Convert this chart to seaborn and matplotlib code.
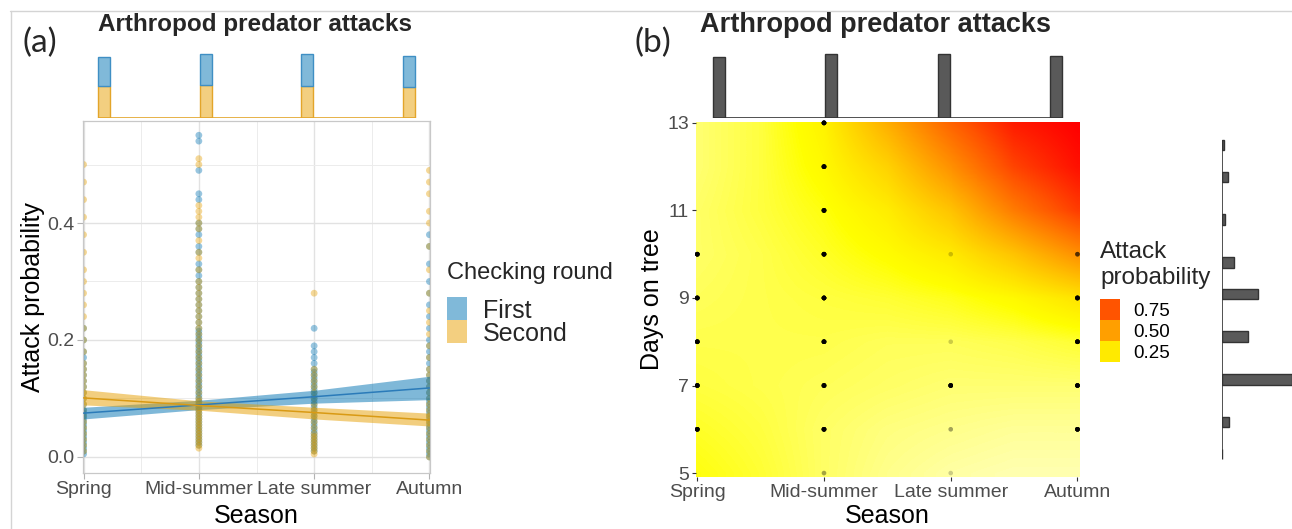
import numpy as np
import pandas as pd
import matplotlib
matplotlib.use("Agg")
import matplotlib.pyplot as plt
from matplotlib.colors import LinearSegmentedColormap
from matplotlib.patches import Rectangle
from matplotlib.lines import Line2D
import seaborn as sns

sns.set_theme(style="white")
plt.rcParams["font.family"] = ["Liberation Sans", "DejaVu Sans"]

W, H = 1292, 529

seasons = ["Spring", "Mid-summer", "Late summer", "Autumn"]
rounds = ["First", "Second"]

# ---- panel (a): attack probability per tree, by season and checking round ----
spring_first = [0.005, 0.01, 0.015, 0.02, 0.025, 0.03, 0.035, 0.04, 0.045, 0.05,
                0.055, 0.06, 0.065, 0.07, 0.075, 0.08, 0.09, 0.10, 0.11, 0.12,
                0.13, 0.14, 0.15, 0.16, 0.17, 0.18, 0.20, 0.22]
spring_second = [0.01, 0.02, 0.03, 0.04, 0.05, 0.06, 0.07, 0.08, 0.09, 0.10,
                 0.11, 0.12, 0.13, 0.14, 0.15, 0.16, 0.18, 0.20, 0.22, 0.24,
                 0.26, 0.28, 0.30, 0.32, 0.35, 0.38, 0.41, 0.44, 0.47, 0.50]
mid_first = [0.020, 0.025, 0.030, 0.035, 0.040, 0.045, 0.050, 0.055, 0.060, 0.065,
             0.070, 0.075, 0.080, 0.085, 0.090, 0.095, 0.100, 0.105, 0.110, 0.115,
             0.120, 0.125, 0.130, 0.135, 0.140, 0.145, 0.150, 0.155, 0.160, 0.165,
             0.170, 0.175, 0.180, 0.185, 0.190, 0.195, 0.200, 0.205, 0.210, 0.215,
             0.220, 0.230, 0.240, 0.250, 0.260, 0.270, 0.280, 0.290, 0.300, 0.310,
             0.320, 0.330, 0.35, 0.36, 0.38, 0.39, 0.40, 0.44, 0.45, 0.49,
             0.54, 0.55]
mid_second = [0.015, 0.020, 0.025, 0.030, 0.035, 0.040, 0.045, 0.050, 0.055, 0.060,
              0.065, 0.070, 0.075, 0.080, 0.085, 0.090, 0.095, 0.100, 0.110, 0.120,
              0.130, 0.140, 0.150, 0.160, 0.170, 0.180, 0.190, 0.200, 0.210, 0.220,
              0.230, 0.240, 0.250, 0.260, 0.270, 0.280, 0.290, 0.30, 0.32, 0.34,
              0.35, 0.37, 0.39, 0.40, 0.41, 0.42, 0.43, 0.50, 0.51]
late_first = [0.010, 0.015, 0.020, 0.025, 0.030, 0.035, 0.040, 0.045, 0.050, 0.055,
              0.060, 0.065, 0.070, 0.075, 0.080, 0.085, 0.090, 0.095, 0.100, 0.105,
              0.110, 0.115, 0.120, 0.125, 0.130, 0.135, 0.140, 0.145, 0.150, 0.16,
              0.17, 0.18, 0.19, 0.22]
late_second = [0.005, 0.010, 0.015, 0.020, 0.025, 0.030, 0.035, 0.040, 0.050, 0.060,
               0.070, 0.080, 0.090, 0.100, 0.110, 0.120, 0.130, 0.140, 0.150, 0.28]
autumn_first = [0.0, 0.005, 0.01, 0.015, 0.02, 0.025, 0.03, 0.035, 0.04, 0.045,
                0.05, 0.055, 0.06, 0.065, 0.07, 0.075, 0.08, 0.085, 0.09, 0.095,
                0.10, 0.11, 0.12, 0.13, 0.14, 0.15, 0.16, 0.17, 0.18, 0.19,
                0.20, 0.22, 0.24, 0.26, 0.28, 0.30, 0.33, 0.36, 0.38]
autumn_second = [0.0, 0.01, 0.02, 0.03, 0.04, 0.05, 0.06, 0.07, 0.08, 0.09,
                 0.10, 0.11, 0.12, 0.13, 0.14, 0.15, 0.17, 0.19, 0.21, 0.23,
                 0.25, 0.28, 0.32, 0.36, 0.40, 0.42, 0.45, 0.47, 0.49]

# fitted trend with 95% band at each season
first_fit = [0.075, 0.089, 0.103, 0.118]
first_lo = [0.065, 0.081, 0.092, 0.098]
first_hi = [0.085, 0.097, 0.114, 0.138]
second_fit = [0.101, 0.088, 0.076, 0.063]
second_lo = [0.089, 0.080, 0.065, 0.053]
second_hi = [0.115, 0.096, 0.085, 0.075]

# number of trees checked per season in each round
first_counts = [59, 63, 64, 62]
second_counts = [63, 65, 64, 62]

# ---- panel (b): predicted attack probability by season and days on tree ----
days = [5, 6, 7, 8, 9, 10, 11, 12, 13]
day_counts = [1, 23, 218, 80, 111, 36, 10, 18, 5]
surface_season = [0, 0.5, 1, 1.5, 2, 2.5, 3]
attack_surface = [
    [0.17, 0.14, 0.10, 0.07, 0.05, 0.04, 0.04],   # day 5
    [0.15, 0.13, 0.10, 0.08, 0.07, 0.06, 0.06],   # day 6
    [0.13, 0.12, 0.11, 0.10, 0.09, 0.09, 0.09],   # day 7
    [0.12, 0.12, 0.12, 0.11, 0.11, 0.12, 0.14],   # day 8
    [0.11, 0.12, 0.13, 0.14, 0.16, 0.20, 0.27],   # day 9
    [0.10, 0.12, 0.15, 0.19, 0.25, 0.38, 0.55],   # day 10
    [0.10, 0.13, 0.17, 0.24, 0.38, 0.62, 0.82],   # day 11
    [0.09, 0.13, 0.20, 0.33, 0.55, 0.80, 0.95],   # day 12
    [0.09, 0.13, 0.22, 0.45, 0.70, 0.92, 1.00],   # day 13
]
# observed season/day combinations and how many trees share each one
obs_season = [0, 0, 0, 0, 0,
              1, 1, 1, 1, 1, 1, 1, 1, 1,
              2, 2, 2, 2, 2,
              3, 3, 3, 3, 3]
obs_day = [6, 7, 8, 9, 10,
           5, 6, 7, 8, 9, 10, 11, 12, 13,
           5, 6, 7, 8, 10,
           6, 7, 8, 9, 10]
obs_n = [20, 20, 20, 20, 20,
         2, 20, 20, 20, 20, 20, 20, 20, 20,
         1, 2, 20, 1, 1,
         20, 20, 20, 20, 5]
legend_breaks = [0.75, 0.50, 0.25]

# ---------------------------------------------------------------------------
blue, orange = "#0072B2", "#E69F00"
blue_fill, orange_fill = "#80b9d9", "#f3cf80"
blue_edge, orange_edge = "#3f8fc4", "#e3a52a"
tick_grey = "#4d4d4d"

fig = plt.figure(figsize=(W / 100, H / 100), dpi=100)


def px_axes(left, top, right, bottom):
    return fig.add_axes([left / W, 1 - bottom / H, (right - left) / W, (bottom - top) / H])


def fx(x):
    return x / W


def fy(y):
    return 1 - y / H


# outer frame lines
fig.add_artist(Line2D([fx(10), 1], [fy(11), fy(11)], color="#d4d4d4", lw=1))
fig.add_artist(Line2D([fx(11), fx(11)], [fy(11), 0], color="#d4d4d4", lw=1))

# ---------------- panel (a) main ----------------
rows = []
for si, (fv, sv) in enumerate([(spring_first, spring_second), (mid_first, mid_second),
                               (late_first, late_second), (autumn_first, autumn_second)]):
    for v in fv:
        rows.append((si, "First", v))
    for v in sv:
        rows.append((si, "Second", v))
pts = pd.DataFrame(rows, columns=["season", "round", "prob"])

axa = px_axes(83, 121, 430, 473)
axa.set_xlim(-0.005, 3.005)
axa.set_ylim(-0.0274, 0.5744)
axa.set_xticks(range(4))
axa.set_xticks([0.5, 1.5, 2.5], minor=True)
axa.set_yticks([0.0, 0.2, 0.4])
axa.set_yticks([0.1, 0.3, 0.5], minor=True)
axa.grid(True, which="major", color="#e2e2e2", lw=1.0)
axa.grid(True, which="minor", color="#ececec", lw=0.7)
axa.set_axisbelow(True)

sns.scatterplot(data=pts, x="season", y="prob", hue="round", palette=[blue, orange],
                hue_order=rounds, s=24, alpha=0.4, edgecolor="none", legend=False,
                ax=axa, zorder=2)

x4 = np.arange(4)
axa.fill_between(x4, first_lo, first_hi, color=blue, alpha=0.5, lw=0, zorder=3)
axa.fill_between(x4, second_lo, second_hi, color=orange, alpha=0.5, lw=0, zorder=3)
sns.lineplot(x=x4, y=first_fit, color="#2b7bb9", lw=1.1, ax=axa, zorder=4)
sns.lineplot(x=x4, y=second_fit, color="#d99a14", lw=1.1, ax=axa, zorder=4)

axa.set_xticklabels(seasons)
axa.tick_params(axis="both", which="major", length=4, width=0.8, color="#b3b3b3",
                labelcolor=tick_grey, labelsize=14, pad=2, bottom=True, left=True)
axa.tick_params(which="minor", length=0)
for sp in axa.spines.values():
    sp.set_color("#c8c8c8")
    sp.set_linewidth(0.9)
axa.set_xlabel("")
axa.set_ylabel("")
fig.text(fx(33), fy(297), "Attack probability", rotation=90, fontsize=18,
         ha="center", va="center", color="black")
fig.text(fx(256), fy(523), "Season", fontsize=18, ha="center", va="baseline", color="black")

# ---------------- panel (a) top marginal ----------------
bw_a = 12 / 101.67
axm = px_axes(92, 50, 421, 117.5)
axm.bar(x4, second_counts, width=bw_a, color=orange_fill, edgecolor=orange_edge, lw=1)
axm.bar(x4, first_counts, bottom=second_counts, width=bw_a, color=blue_fill,
        edgecolor=blue_edge, lw=1)
axm.hlines(0, -bw_a / 2, 3 + bw_a / 2, color=orange_edge, lw=1.2)
axm.set_xlim(-bw_a, 3 + bw_a)
axm.set_ylim(0, 135)
axm.axis("off")

# legend (a)
fig.text(fx(447), fy(279), "Checking round", fontsize=17, ha="left", va="baseline")
for i, (lab, col) in enumerate(zip(rounds, [blue_fill, orange_fill])):
    top = 297 + i * 23
    fig.add_artist(Rectangle((fx(447), fy(top + 23)), 20 / W, 23 / H,
                             transform=fig.transFigure, color=col, lw=0))
    fig.text(fx(483), fy(top + 11.5), lab, fontsize=18, ha="left", va="center_baseline")

# ---------------- panel (b) surface ----------------
cmap = LinearSegmentedColormap.from_list(
    "attack", [(0.0, "#ffffe0"), (0.18, "#ffff00"), (0.5, "#ffa000"),
               (0.75, "#ff5500"), (1.0, "#ff0000")])

axb = px_axes(696, 122, 1080, 477)
axb.imshow(np.array(attack_surface), origin="lower", aspect="auto", cmap=cmap,
           vmin=0, vmax=1, interpolation="bilinear",
           extent=(surface_season[0] - 0.25, surface_season[-1] + 0.25,
                   days[0] - 0.5, days[-1] + 0.5))
dots = pd.DataFrame({"season": np.repeat(obs_season, obs_n),
                     "day": np.repeat(obs_day, obs_n)})
sns.scatterplot(data=dots, x="season", y="day", color="black", s=11, alpha=0.2,
                edgecolor="none", ax=axb, zorder=3, clip_on=False)
axb.set_xlim(-0.01, 3.02)
axb.set_ylim(4.91, 13.02)
axb.set_xticks(range(4))
axb.set_xticklabels(seasons)
axb.set_yticks([5, 7, 9, 11, 13])
axb.tick_params(axis="both", length=3, width=0.8, color="#333333", labelcolor=tick_grey,
                labelsize=14, pad=2, bottom=True, left=True)
for sp in axb.spines.values():
    sp.set_visible(False)
axb.set_xlabel("")
axb.set_ylabel("")
fig.text(fx(652), fy(299), "Days on tree", rotation=90, fontsize=18,
         ha="center", va="center", color="black")
fig.text(fx(887), fy(523), "Season", fontsize=18, ha="center", va="baseline", color="black")

# top marginal (b)
season_totals = np.add(first_counts, second_counts)
bw_b = 12 / 112.33
axbt = px_axes(707, 50, 1068, 118.3)
axbt.bar(x4, season_totals, width=bw_b, color="#595959", edgecolor="#333333", lw=1)
axbt.hlines(0, -bw_b / 2, 3 + bw_b / 2, color="#333333", lw=1.2)
axbt.set_xlim(-bw_b, 3 + bw_b)
axbt.set_ylim(0, 135)
axbt.axis("off")

# right marginal (b): histogram of days on tree, 30 bins
day_hist, day_edges = np.histogram(np.repeat(days, day_counts), bins=30,
                                   range=(days[0], days[-1]))
day_centres = (day_edges[:-1] + day_edges[1:]) / 2
axbr = px_axes(1222, 137, 1292, 461)
axbr.barh(day_centres[day_hist > 0], day_hist[day_hist > 0],
          height=np.diff(day_edges)[0], color="#595959", edgecolor="#333333", lw=1)
axbr.vlines(0, day_edges[0], day_edges[-1], color="#333333", lw=1.2)
axbr.set_xlim(0, 218)
axbr.set_ylim(4.957, 13.067)
axbr.axis("off")

# legend (b)
fig.text(fx(1100), fy(252), "Attack", fontsize=17.5, ha="left", va="center")
fig.text(fx(1100), fy(278), "probability", fontsize=17.5, ha="left", va="center")
for i, b in enumerate(legend_breaks):
    top = 299 + i * 21
    fig.add_artist(Rectangle((fx(1100), fy(top + 21)), 20 / W, 21 / H,
                             transform=fig.transFigure, color=cmap(b), lw=0))
    fig.text(fx(1133), fy(top + 10.5), f"{b:.2f}", fontsize=13.5, ha="left",
             va="center_baseline", color="black")

# titles and panel tags
fig.text(fx(255), fy(31), "Arthropod predator attacks", fontsize=17.5, fontweight="bold",
         ha="center", va="baseline")
fig.text(fx(876), fy(32), "Arthropod predator attacks", fontsize=19.5, fontweight="bold",
         ha="center", va="baseline")
fig.text(fx(22), fy(52), "(a)", fontsize=24, family=["Lato", "DejaVu Sans"],
         ha="left", va="baseline")
fig.text(fx(635), fy(52), "(b)", fontsize=24, family=["Lato", "DejaVu Sans"],
         ha="left", va="baseline")

fig.savefig("out.png", dpi=100)
